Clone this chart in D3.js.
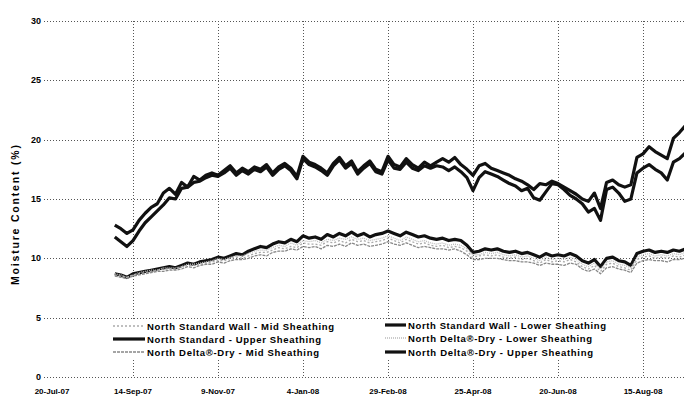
<!DOCTYPE html>
<html>
<head>
<meta charset="utf-8">
<script src="https://cdn.jsdelivr.net/npm/d3@7"></script>
<style>
  body { margin: 0; background: #fff; }
  svg { display: block; font-family: "Liberation Sans", Arial, sans-serif; }
</style>
</head>
<body>
<div id="chart"></div>
<script>
// x axis tick labels (every 56 days)
const tickLabels = ['20-Jul-07', '14-Sep-07', '9-Nov-07', '4-Jan-08', '29-Feb-08', '25-Apr-08', '20-Jun-08', '15-Aug-08'];
const yTicks = [0, 5, 10, 15, 20, 25, 30];

// readings every 4 days starting 2-Sep-07
const firstDay = '2007-09-02';
const stepDays = 4;

const stdUpper = [12.8, 12.5, 12.1, 12.4, 13.2, 13.8, 14.3, 14.6, 15.5, 15.9, 15.4, 16.4, 16.0, 16.9, 16.6, 17.0, 17.2, 17.0, 17.4, 17.8,
  17.2, 17.6, 17.3, 17.7, 17.5, 17.9, 17.2, 17.7, 18.0, 17.6, 16.9, 18.6, 18.1, 17.9, 17.6, 17.2, 18.0, 18.5, 17.8, 18.2,
  17.3, 17.8, 18.2, 17.5, 17.3, 18.6, 17.9, 17.7, 18.4, 17.9, 17.6, 18.1, 17.8, 18.1, 18.4, 18.1, 18.5, 17.9, 17.5, 17.0,
  17.8, 18.0, 17.6, 17.4, 17.2, 17.0, 16.7, 16.5, 16.2, 15.8, 16.3, 16.2, 16.5, 16.3, 16.0, 15.7, 15.4, 15.0, 14.8, 15.5,
  14.2, 16.4, 16.6, 16.2, 16.0, 16.2, 18.5, 18.8, 19.4, 19.0, 18.7, 18.4, 20.1, 20.6, 21.2];

const ddUpper = [11.8, 11.4, 11.0, 11.5, 12.3, 13.0, 13.5, 14.0, 14.5, 15.1, 15.0, 15.9, 16.0, 16.4, 16.5, 16.8, 17.0, 16.9, 17.2, 17.6,
  17.0, 17.4, 17.1, 17.5, 17.3, 17.7, 17.0, 17.5, 17.8, 17.4, 16.7, 18.4, 17.9, 17.7, 17.4, 17.0, 17.8, 18.3, 17.6, 18.0,
  17.1, 17.6, 18.0, 17.3, 17.1, 18.3, 17.6, 17.5, 18.1, 17.6, 17.4, 17.8, 17.6, 17.8, 17.7, 17.4, 17.7, 17.3, 16.8, 15.7,
  16.8, 17.3, 17.1, 16.9, 16.6, 16.3, 16.1, 15.7, 15.9, 15.1, 14.9, 15.6, 16.3, 16.2, 15.8, 15.3, 15.0, 14.6, 13.9, 14.2,
  13.2, 15.8, 16.0, 15.5, 14.8, 15.0, 17.2, 17.6, 17.9, 17.5, 17.2, 16.6, 18.1, 18.4, 18.9];

const stdLower = [8.7, 8.6, 8.4, 8.7, 8.8, 8.9, 9.0, 9.1, 9.2, 9.3, 9.2, 9.4, 9.6, 9.5, 9.7, 9.8, 9.9, 10.1, 10.0, 10.2,
  10.4, 10.3, 10.6, 10.8, 11.0, 10.9, 11.2, 11.4, 11.3, 11.6, 11.4, 11.9, 11.7, 11.8, 11.6, 12.0, 11.8, 12.1, 11.9, 12.2,
  11.9, 12.1, 11.8, 12.0, 12.1, 12.3, 12.1, 11.9, 12.2, 12.0, 11.8, 11.9, 11.7, 11.6, 11.7, 11.5, 11.6, 11.5, 11.1, 10.5,
  10.6, 10.8, 10.7, 10.8, 10.6, 10.5, 10.6, 10.4, 10.5, 10.3, 10.1, 10.4, 10.2, 10.3, 10.2, 10.4, 10.2, 9.8, 9.6, 9.9,
  9.3, 10.0, 10.1, 9.8, 9.7, 9.4, 10.4, 10.6, 10.7, 10.5, 10.6, 10.5, 10.7, 10.6, 10.8];

const stdMid = [8.6, 8.5, 8.4, 8.6, 8.7, 8.8, 8.9, 9.0, 9.1, 9.1, 9.1, 9.3, 9.4, 9.4, 9.5, 9.6, 9.7, 9.8, 9.8, 10.0,
  10.1, 10.0, 10.2, 10.4, 10.5, 10.5, 10.7, 10.9, 10.8, 11.0, 10.9, 11.3, 11.2, 11.2, 11.1, 11.4, 11.3, 11.5, 11.3, 11.6,
  11.4, 11.5, 11.3, 11.4, 11.5, 11.7, 11.5, 11.3, 11.6, 11.4, 11.2, 11.3, 11.1, 11.0, 11.1, 10.9, 11.0, 10.9, 10.6, 10.1,
  10.2, 10.3, 10.2, 10.3, 10.1, 10.0, 10.1, 9.9, 10.0, 9.8, 9.6, 9.9, 9.7, 9.8, 9.7, 9.9, 9.7, 9.3, 9.1, 9.4,
  8.9, 9.5, 9.6, 9.3, 9.2, 9.0, 9.9, 10.1, 10.2, 10.0, 10.1, 10.0, 10.2, 10.1, 10.3];

const ddMid = [8.5, 8.4, 8.3, 8.5, 8.6, 8.7, 8.8, 8.9, 8.9, 9.0, 9.0, 9.1, 9.3, 9.2, 9.4, 9.5, 9.5, 9.7, 9.6, 9.8,
  9.9, 9.9, 10.0, 10.2, 10.3, 10.2, 10.5, 10.6, 10.6, 10.8, 10.7, 11.0, 10.9, 11.0, 10.8, 11.1, 11.0, 11.2, 11.0, 11.3,
  11.1, 11.2, 11.0, 11.1, 11.2, 11.4, 11.2, 11.1, 11.3, 11.1, 10.9, 11.0, 10.9, 10.8, 10.8, 10.7, 10.8, 10.6, 10.3, 9.9,
  9.9, 10.0, 10.0, 10.0, 9.9, 9.8, 9.8, 9.7, 9.7, 9.6, 9.4, 9.6, 9.5, 9.5, 9.4, 9.6, 9.5, 9.1, 8.9, 9.1,
  8.7, 9.2, 9.3, 9.1, 9.0, 8.8, 9.6, 9.8, 9.9, 9.8, 9.8, 9.7, 9.9, 9.9, 10.0];

const ddLower = [8.7, 8.6, 8.4, 8.6, 8.8, 8.9, 9.0, 9.0, 9.2, 9.2, 9.2, 9.3, 9.5, 9.5, 9.6, 9.7, 9.8, 10.0, 9.9, 10.1,
  10.2, 10.2, 10.4, 10.6, 10.7, 10.7, 10.9, 11.1, 11.0, 11.3, 11.1, 11.5, 11.4, 11.5, 11.3, 11.6, 11.5, 11.7, 11.6, 11.8,
  11.6, 11.7, 11.5, 11.6, 11.7, 11.9, 11.7, 11.5, 11.8, 11.6, 11.4, 11.5, 11.3, 11.2, 11.3, 11.1, 11.2, 11.1, 10.8, 10.3,
  10.3, 10.5, 10.4, 10.5, 10.3, 10.2, 10.3, 10.1, 10.2, 10.0, 9.8, 10.1, 9.9, 10.0, 9.9, 10.1, 9.9, 9.5, 9.3, 9.6,
  9.1, 9.7, 9.8, 9.5, 9.4, 9.2, 10.1, 10.3, 10.4, 10.2, 10.3, 10.2, 10.4, 10.3, 10.5];

const seriesNames = [
  'North Standard Wall - Mid Sheathing',
  'North Standard - Upper Sheathing',
  'North Delta\u00AE-Dry - Mid Sheathing',
  'North Standard Wall - Lower Sheathing',
  'North Delta\u00AE-Dry - Lower Sheathing',
  'North Delta\u00AE-Dry - Upper Sheathing'
];

const width = 684, height = 401;
const margin = { left: 48, right: 0, top: 21, bottom: 24 };

const parse = d3.timeParse('%d-%b-%y');
const tickDates = tickLabels.map(parse);
const start = d3.timeParse('%Y-%m-%d')(firstDay);
const dates = stdUpper.map((_, i) => d3.timeDay.offset(start, i * stepDays));

const x = d3.scaleTime()
  .domain([tickDates[0], d3.timeDay.offset(tickDates[0], 421)])
  .range([margin.left, margin.left + 421 * 85 / 56]);
const y = d3.scaleLinear().domain([0, 30]).range([377, 21]);

const svg = d3.select('#chart').append('svg')
  .attr('width', width).attr('height', height);

svg.append('defs').append('clipPath').attr('id', 'plot')
  .append('rect').attr('x', margin.left - 2).attr('y', 0)
  .attr('width', width - margin.left + 2).attr('height', 380);

// grid
const grid = svg.append('g').attr('stroke', '#555').attr('stroke-dasharray', '1,2').attr('stroke-width', 1);
grid.selectAll('.hg').data(yTicks).enter().append('line')
  .attr('x1', margin.left - 4).attr('x2', width)
  .attr('y1', d => Math.round(y(d)) + 0.5).attr('y2', d => Math.round(y(d)) + 0.5);
grid.selectAll('.vg').data(tickDates.slice(1)).enter().append('line')
  .attr('x1', d => Math.round(x(d)) + 0.5).attr('x2', d => Math.round(x(d)) + 0.5)
  .attr('y1', y(30)).attr('y2', y(0));

// axes labels
svg.append('g').selectAll('text').data(yTicks).enter().append('text')
  .attr('x', 41).attr('y', d => y(d) + 3)
  .attr('text-anchor', 'end')
  .style('font-size', '9px').style('font-weight', 'bold')
  .text(d => d);

svg.append('g').selectAll('text').data(tickDates).enter().append('text')
  .attr('x', (d, i) => i === 0 ? x(d) + 4 : x(d))
  .attr('y', 394)
  .attr('text-anchor', 'middle')
  .style('font-size', '8px').style('font-weight', 'bold')
  .text((d, i) => tickLabels[i]);

svg.append('text')
  .attr('transform', 'translate(19,215) rotate(-90)')
  .attr('text-anchor', 'middle')
  .attr('textLength', 140)
  .style('font-size', '10.5px').style('font-weight', 'bold')
  .text('Moisture Content (%)');

// series styles: thick black and thin grey
const styles = [
  { data: stdMid, stroke: '#aaa', width: 1.3, dash: '2,2' },
  { data: stdUpper, stroke: '#111', width: 3.2, dash: null },
  { data: ddMid, stroke: '#888', width: 1.3, dash: '3,1' },
  { data: stdLower, stroke: '#111', width: 3.2, dash: null },
  { data: ddLower, stroke: '#bbb', width: 1.3, dash: '1,1' },
  { data: ddUpper, stroke: '#111', width: 3.2, dash: null }
];

const line = d3.line().x((d, i) => x(dates[i])).y(d => y(d));

const plot = svg.append('g').attr('clip-path', 'url(#plot)');
[3, 1, 5, 0, 2, 4].forEach(k => {
  const s = styles[k];
  plot.append('path')
    .datum(s.data)
    .attr('fill', 'none')
    .attr('stroke', s.stroke)
    .attr('stroke-width', s.width)
    .attr('stroke-linejoin', 'round')
    .attr('stroke-dasharray', s.dash)
    .attr('d', line);
});

// legend
svg.append('rect').attr('x', 106).attr('y', 319).attr('width', 506).attr('height', 41).attr('fill', '#fff');
const legendPos = [
  { x: 113, len: 32, y: 326, tl: 187 },
  { x: 113, len: 32, y: 339, tl: 174 },
  { x: 113, len: 32, y: 352, tl: 172 },
  { x: 385, len: 21, y: 325, tl: 198 },
  { x: 385, len: 21, y: 338, tl: 184 },
  { x: 385, len: 21, y: 352, tl: 185 }
];
const legend = svg.append('g');
seriesNames.forEach((name, k) => {
  const p = legendPos[k], s = styles[k];
  legend.append('line')
    .attr('x1', p.x).attr('x2', p.x + p.len)
    .attr('y1', p.y).attr('y2', p.y)
    .attr('stroke', s.stroke).attr('stroke-width', s.width)
    .attr('stroke-dasharray', s.dash);
  legend.append('text')
    .attr('x', p.x + p.len + 2).attr('y', p.y + 3.5)
    .attr('textLength', p.tl)
    .style('font-size', '9.5px').style('font-weight', 'bold')
    .text(name);
});
</script>
</body>
</html>
